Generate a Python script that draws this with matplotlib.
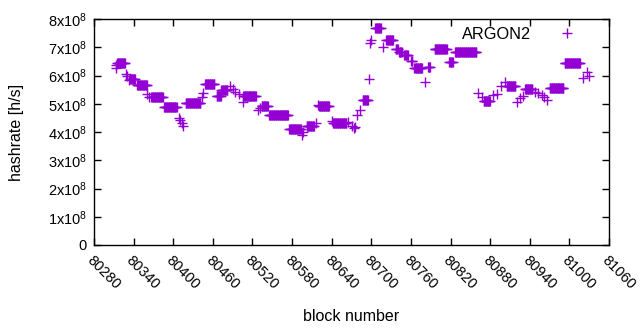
import numpy as np
import matplotlib
matplotlib.use("Agg")
import matplotlib.pyplot as plt

plt.rcParams["font.family"] = ["Liberation Sans", "DejaVu Sans"]
plt.rcParams["mathtext.fontset"] = "custom"
plt.rcParams["mathtext.rm"] = "Liberation Sans"
plt.rcParams["mathtext.it"] = "Liberation Sans"

# runs of blocks with the same hashrate: first block, last block, hashrate (x1e8 h/s)
run_start = [80313, 80314, 80315, 80329, 80330, 80333, 80335, 80345, 80361, 80364,
             80367, 80386, 80408, 80410, 80414, 80415, 80419, 80443, 80445, 80448,
             80466, 80473, 80486, 80491, 80493, 80500, 80505, 80506, 80529, 80532,
             80534, 80545, 80576, 80595, 80597, 80602, 80616, 80619, 80621, 80640,
             80642, 80664, 80670, 80674, 80676, 80679, 80683, 80687, 80697, 80698,
             80700, 80706, 80717, 80723, 80737, 80742, 80750, 80760, 80765, 80781,
             80786, 80796, 80818, 80827, 80862, 80867, 80870, 80884, 80890, 80897,
             80903, 80905, 80921, 80925, 80929, 80933, 80948, 80953, 80958, 80962,
             80966, 80970, 80993, 81021, 81026, 81030]
run_end = [80313, 80314, 80327, 80329, 80330, 80333, 80342, 80360, 80361, 80364,
           80384, 80405, 80408, 80410, 80414, 80415, 80441, 80443, 80445, 80462,
           80472, 80482, 80486, 80491, 80493, 80500, 80505, 80525, 80529, 80532,
           80543, 80574, 80593, 80595, 80597, 80613, 80616, 80619, 80636, 80640,
           80662, 80664, 80670, 80674, 80676, 80679, 80683, 80695, 80697, 80698,
           80700, 80714, 80717, 80733, 80740, 80746, 80755, 80762, 80777, 80781,
           80789, 80814, 80823, 80859, 80862, 80867, 80880, 80884, 80890, 80897,
           80903, 80918, 80921, 80925, 80929, 80944, 80948, 80953, 80958, 80962,
           80966, 80991, 81016, 81021, 81026, 81030]
run_rate = [6.25, 6.37, 6.43, 6.05, 5.98, 5.84, 5.88, 5.65, 5.33, 5.25,
            5.23, 4.87, 4.48, 4.42, 4.33, 4.22, 5.02, 5.23, 5.37, 5.69,
            5.26, 5.49, 5.62, 5.51, 5.43, 5.33, 5.07, 5.26, 4.78, 4.86,
            4.91, 4.59, 4.10, 3.88, 3.99, 4.21, 4.31, 4.96, 4.91, 4.40,
            4.31, 4.36, 4.21, 4.13, 4.18, 4.60, 4.78, 5.12, 5.87, 7.16,
            7.26, 7.67, 7.00, 7.26, 6.93, 6.82, 6.73, 6.50, 6.25, 5.78,
            6.31, 6.93, 6.47, 6.82, 5.37, 5.25, 5.10, 5.31, 5.33, 5.63,
            5.78, 5.63, 5.07, 5.19, 5.28, 5.52, 5.43, 5.37, 5.31, 5.25,
            5.13, 5.57, 6.43, 5.90, 6.13, 5.99]

xticks = list(range(80280, 81061, 60))
yticks = [i * 1e8 for i in range(9)]
ylabels = ["0"] + ["%dx10$^{8}$" % i for i in range(1, 9)]

blocks = []
rates = []
for s, e, r in zip(run_start, run_end, run_rate):
    for b in range(s, e + 1):
        blocks.append(b)
        rates.append(r * 1e8)

fig = plt.figure(figsize=(6.4, 3.3), dpi=100)
ax = fig.add_axes([94 / 640, 85 / 330, 515 / 640, 226 / 330])
ax.plot(blocks, rates, linestyle="none", marker="+", markersize=7,
        markeredgewidth=1.0, color="#9400d3", label="ARGON2")

ax.set_xlim(80280, 81060)
ax.set_ylim(0, 8e8)
ax.set_xticks(xticks)
ax.set_xticklabels([str(t) for t in xticks], rotation=-45, ha="left", va="top",
                   rotation_mode="anchor")
ax.set_yticks(yticks)
ax.set_yticklabels(ylabels)
ax.tick_params(direction="in", length=5, width=1, top=True, right=True,
               labelsize=10.5, colors="black", pad=5)
ax.tick_params(axis="x", pad=6)
for sp in ax.spines.values():
    sp.set_linewidth(1.0)

ax.set_xlabel("block number", fontsize=11.5, labelpad=12)
ax.set_ylabel("hashrate [h/s]", fontsize=11.5, labelpad=17)

ax.legend(loc="upper right", frameon=False, markerfirst=False, fontsize=11.7,
          handlelength=2, handletextpad=1.2, borderaxespad=0, borderpad=0,
          bbox_to_anchor=(0.9495, 0.965))

fig.savefig("out.png", dpi=100)
